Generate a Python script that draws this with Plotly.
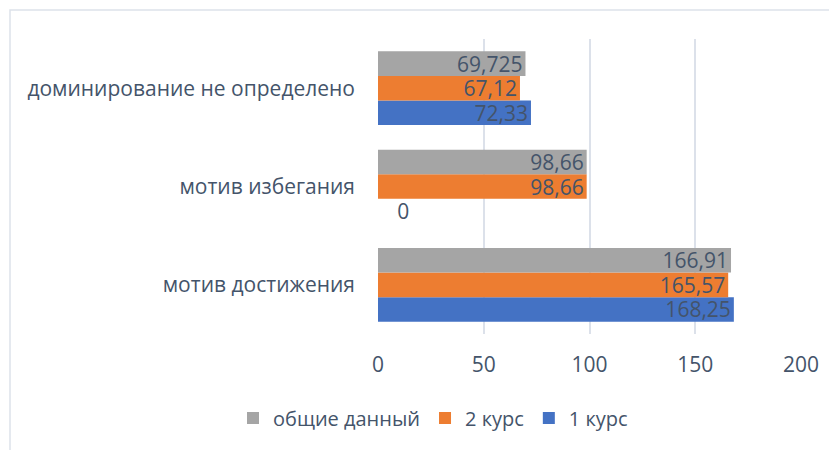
import plotly.graph_objects as go

categories = ["мотив достижения", "мотив избегания", "доминирование не определено"]
series_names = ["1 курс", "2 курс", "общие данный"]
kurs1 = [168.25, 0, 72.33]
kurs2 = [165.57, 98.66, 67.12]
total = [166.91, 98.66, 69.725]
colors = ["#4472C4", "#ED7D31", "#A5A5A5"]
x_ticks = [0, 50, 100, 150, 200]

TXT = "#44546A"
FONT = "Open Sans"

def fmt(v):
    s = ("%g" % v).replace(".", ",")
    return s if v > 0 else "\u00a0\u00a0\u00a0" + s

# page has an 8px body margin: figure origin is at (8, 8) in the window
L, T, PW, PH = 370, 31, 423, 295
W, H = 837, 450

fig = go.Figure()
for name, vals, col in zip(series_names, [kurs1, kurs2, total], colors):
    fig.add_trace(go.Bar(
        y=categories, x=vals, name=name, orientation="h",
        marker=dict(color=col, line=dict(width=0)),
        text=[fmt(v) for v in vals],
        textposition=["inside" if v > 0 else "outside" for v in vals],
        insidetextanchor="end",
        textfont=dict(color=TXT, size=21, family=FONT),
        outsidetextfont=dict(color=TXT, size=21, family=FONT),
        constraintext="none",
        cliponaxis=False,
    ))

fig.update_layout(
    width=W, height=H,
    barmode="group", bargap=0.25, bargroupgap=0,
    paper_bgcolor="white", plot_bgcolor="white",
    margin=dict(l=L, r=W - L - PW, t=T, b=H - T - PH, autoexpand=False),
    font=dict(family=FONT, color=TXT, size=20),
    showlegend=True,
    legend=dict(orientation="h", xref="container", yref="container",
                x=425 / W, xanchor="center", y=1 - 410 / H, yanchor="middle",
                traceorder="reversed", font=dict(size=20, color=TXT, family=FONT),
                itemwidth=30, itemsizing="constant"),
    xaxis=dict(range=[0, 200], tickvals=x_ticks, showgrid=True, gridcolor="#DCE1EA",
               gridwidth=2, zeroline=False, showline=False, ticks="",
               ticklabelstandoff=16, tickfont=dict(size=21, color=TXT, family=FONT)),
    yaxis=dict(categoryorder="array", categoryarray=categories, showgrid=False,
               zeroline=False, showline=False, ticks="", ticklabelstandoff=22,
               tickfont=dict(size=21, color=TXT, family=FONT)),
    shapes=[dict(type="rect", xref="paper", yref="paper",
                 x0=(2 - L) / PW, x1=1.5, y0=-1.0, y1=1 + (T - 2) / PH,
                 line=dict(color="#DDE2EA", width=1.5), fillcolor="rgba(0,0,0,0)",
                 layer="below")],
)

fig.write_html("out.html")
